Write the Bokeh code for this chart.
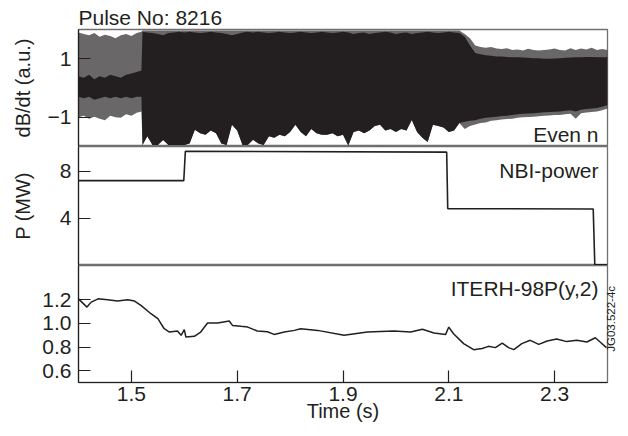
import math
from bokeh.plotting import figure
from bokeh.models import Range1d, FixedTicker, Label, LinearAxis
from bokeh.layouts import column
from bokeh.embed import file_html
from bokeh.resources import INLINE

# ---------------- data ----------------
# dB/dt envelope: times and envelope values
t_r1 = [1.40, 1.41, 1.42, 1.43, 1.44, 1.45, 1.46, 1.47, 1.48, 1.49, 1.50, 1.51, 1.519]
up_outer_r1 = [1.90, 1.85, 1.80, 1.88, 1.75, 1.82, 1.78, 1.70, 1.80, 1.85, 1.78, 1.88, 1.92]
up_core_r1 = [0.40, 0.35, 0.45, 0.30, 0.40, 0.35, 0.45, 0.40, 0.35, 0.45, 0.50, 0.55, 0.60]
lo_core_r1 = [-0.30, -0.35, -0.30, -0.40, -0.35, -0.30, -0.35, -0.30, -0.35, -0.30, -0.35, -0.30, -0.30]
lo_outer_r1 = [-1.00, -0.95, -1.05, -0.98, -1.05, -1.10, -0.95, -1.00, -1.02, -0.90, -0.95, -0.85, -0.80]

t_r2 = [1.521, 1.53, 1.54, 1.55, 1.56, 1.57, 1.58, 1.59, 1.60, 1.61, 1.62, 1.63, 1.64, 1.65,
        1.66, 1.67, 1.68, 1.69, 1.70, 1.71, 1.72, 1.73, 1.74, 1.75, 1.76, 1.77, 1.78, 1.79,
        1.80, 1.81, 1.82, 1.83, 1.84, 1.85, 1.86, 1.87, 1.88, 1.89, 1.90, 1.91, 1.92, 1.93,
        1.94, 1.95, 1.96, 1.97, 1.98, 1.99, 2.00, 2.01, 2.02, 2.03, 2.04, 2.05, 2.06, 2.07,
        2.08, 2.09, 2.10, 2.11, 2.12]
up_outer_r2 = [1.97, 1.97, 1.97, 1.97, 1.97, 1.97, 1.97, 1.97, 1.97, 1.97, 1.97, 1.97, 1.97, 1.97,
               1.97, 1.97, 1.97, 1.97, 1.97, 1.97, 1.97, 1.97, 1.97, 1.97, 1.97, 1.97, 1.97, 1.97,
               1.97, 1.97, 1.97, 1.97, 1.97, 1.97, 1.97, 1.97, 1.97, 1.97, 1.97, 1.97, 1.97, 1.97,
               1.97, 1.97, 1.97, 1.97, 1.97, 1.97, 1.97, 1.97, 1.97, 1.97, 1.97, 1.97, 1.97, 1.97,
               1.97, 1.97, 1.97, 1.97, 1.97]
up_core_r2 = [1.92, 1.90, 1.88, 1.85, 1.80, 1.88, 1.90, 1.92, 1.90, 1.92, 1.90, 1.88, 1.90, 1.92,
              1.90, 1.88, 1.85, 1.80, 1.85, 1.90, 1.92, 1.90, 1.92, 1.90, 1.88, 1.90, 1.92, 1.90,
              1.88, 1.90, 1.92, 1.90, 1.88, 1.90, 1.92, 1.90, 1.88, 1.90, 1.92, 1.90, 1.85, 1.88,
              1.90, 1.85, 1.88, 1.90, 1.92, 1.90, 1.85, 1.88, 1.90, 1.85, 1.88, 1.90, 1.92, 1.90,
              1.88, 1.90, 1.92, 1.90, 1.88]
lo_r2 = [-1.95, -1.65, -1.95, -1.95, -1.78, -1.95, -1.95, -1.95, -1.95, -1.90, -1.43, -1.55,
         -1.60, -1.45, -1.55, -1.90, -1.95, -1.26, -1.45, -1.95, -1.95, -1.77, -1.90, -1.95,
         -1.65, -1.70, -1.60, -1.65, -1.50, -1.26, -1.50, -1.65, -1.40, -1.55, -1.60, -1.60,
         -1.55, -1.65, -1.60, -1.97, -1.50, -1.45, -1.55, -1.45, -1.30, -1.26, -1.45, -1.40,
         -1.50, -1.40, -1.45, -1.09, -1.50, -1.70, -1.85, -1.26, -1.30, -1.35, -1.50, -1.45,
         -1.20]

t_r3 = [2.13, 2.14, 2.15, 2.16, 2.17, 2.18, 2.19, 2.20, 2.21, 2.22, 2.23, 2.24, 2.25, 2.26,
        2.27, 2.28, 2.29, 2.30, 2.31, 2.32, 2.33, 2.34, 2.35, 2.36, 2.37, 2.38, 2.39, 2.40]
up_outer_r3 = [1.85, 1.70, 1.45, 1.40, 1.38, 1.40, 1.35, 1.33, 1.36, 1.30, 1.32, 1.28, 1.34, 1.30,
               1.28, 1.30, 1.32, 1.35, 1.30, 1.28, 1.36, 1.30, 1.35, 1.32, 1.38, 1.30, 1.33, 1.30]
up_core_r3 = [1.75, 1.45, 1.20, 1.15, 1.12, 1.10, 1.08, 1.08, 1.06, 1.05, 1.05, 1.04, 1.03, 1.02,
              1.02, 1.00, 1.00, 1.01, 1.02, 1.03, 1.04, 1.05, 1.05, 1.06, 1.06, 1.05, 1.05, 1.05]
lo_core_r3 = [-1.15, -1.12, -1.10, -1.05, -1.02, -1.00, -0.98, -0.96, -0.95, -0.92, -0.90, -0.88,
              -0.87, -0.86, -0.85, -0.83, -0.82, -0.81, -0.80, -0.78, -0.76, -0.80, -0.74, -0.72,
              -0.70, -0.68, -0.64, -0.58]
lo_outer_r3 = [-1.40, -1.30, -1.25, -1.20, -1.18, -1.12, -1.10, -1.08, -1.06, -1.05, -1.02, -1.00,
               -0.99, -0.98, -0.97, -0.95, -0.94, -0.92, -0.92, -0.90, -0.88, -1.05, -0.86, -0.84,
               -0.82, -0.80, -0.76, -0.70]

sig_t = t_r1 + t_r2 + t_r3
sig_up_outer = up_outer_r1 + up_outer_r2 + up_outer_r3
sig_up_core = up_core_r1 + up_core_r2 + up_core_r3
sig_lo_core = lo_core_r1 + lo_r2 + lo_core_r3
sig_lo_outer = lo_outer_r1 + lo_r2 + lo_outer_r3

# NBI power (MW)
nbi_t = [1.40, 1.599, 1.602, 2.096, 2.098, 2.373, 2.376, 2.40]
nbi_p = [7.20, 7.20, 9.70, 9.62, 4.83, 4.80, 0.05, 0.05]

# ITERH-98P(y,2)
iter_t = [1.400, 1.416, 1.424, 1.437, 1.455, 1.474, 1.493, 1.506, 1.518, 1.537, 1.550, 1.562,
          1.572, 1.587, 1.594, 1.600, 1.603, 1.619, 1.631, 1.644, 1.663, 1.685, 1.691, 1.707,
          1.720, 1.738, 1.757, 1.770, 1.789, 1.808, 1.820, 1.852, 1.902, 1.946, 1.996, 2.028,
          2.050, 2.072, 2.094, 2.100, 2.109, 2.128, 2.147, 2.163, 2.175, 2.188, 2.201, 2.213,
          2.223, 2.238, 2.254, 2.270, 2.286, 2.304, 2.323, 2.342, 2.361, 2.377, 2.386, 2.398]
iter_v = [1.208, 1.138, 1.180, 1.208, 1.200, 1.189, 1.200, 1.189, 1.152, 1.082, 1.040, 0.955,
          0.927, 0.936, 0.899, 0.947, 0.885, 0.891, 0.927, 1.003, 1.003, 1.020, 0.983, 0.975,
          0.969, 0.936, 0.930, 0.907, 0.927, 0.941, 0.955, 0.941, 0.899, 0.927, 0.936, 0.927,
          0.950, 0.919, 0.907, 0.969, 0.913, 0.829, 0.778, 0.787, 0.806, 0.795, 0.834, 0.795,
          0.778, 0.829, 0.857, 0.823, 0.851, 0.868, 0.846, 0.857, 0.843, 0.879, 0.843, 0.795]

x_ticks = [1.5, 1.7, 1.9, 2.1, 2.3]
top_ticks = [-1, 1]
mid_ticks = [4, 8]
bot_ticks = [0.6, 0.8, 1.0, 1.2]

# ---------------- style ----------------
INK = "#231f20"
FRAME = "#707070"
FONT = "Liberation Sans"
FS = "21px"

xr = Range1d(1.4, 2.4)


def make_fig(h, yr, top, bottom, below):
    p = figure(width=628, height=h, x_range=xr, y_range=Range1d(*yr),
               output_backend="svg", toolbar_location=None,
               min_border_left=78, min_border_right=21,
               min_border_top=top, min_border_bottom=bottom,
               x_axis_location="below" if below else None)
    p.xgrid.visible = False
    p.ygrid.visible = False
    p.outline_line_color = FRAME
    p.outline_line_width = 1.3
    p.background_fill_color = "white"
    p.border_fill_color = "white"
    for ax in p.axis:
        ax.axis_line_color = INK
        ax.axis_line_width = 1.2
        ax.major_tick_line_color = INK
        ax.major_tick_line_width = 1.2
        ax.major_tick_in = 12
        ax.major_tick_out = 0
        ax.minor_tick_line_color = None
        ax.major_label_text_font = FONT
        ax.major_label_text_font_size = FS
        ax.major_label_text_color = INK
        ax.axis_label_text_font = FONT
        ax.axis_label_text_font_size = "20px"
        ax.axis_label_text_font_style = "normal"
        ax.axis_label_text_color = INK
        ax.major_label_standoff = 7
    return p


def add_text(p, x, y, txt, align="right", size="21px"):
    p.add_layout(Label(x=x, y=y, text=txt, text_font=FONT, text_font_size=size,
                       text_color=INK, text_align=align, text_baseline="alphabetic"))


# top: dB/dt
p1 = make_fig(146, (-2, 2), 29, 0, False)
p1.title.text = "Pulse No: 8216"
p1.title.text_font = FONT
p1.title.text_font_size = "21px"
p1.title.text_font_style = "normal"
p1.title.text_color = INK
p1.title.align = "left"
p1.title.standoff = 2
p1.varea(x=sig_t, y1=sig_lo_outer, y2=sig_up_outer, fill_color=INK, fill_alpha=0.68)
p1.varea(x=sig_t, y1=sig_lo_core, y2=sig_up_core, fill_color=INK, fill_alpha=1.0)
p1.yaxis.ticker = FixedTicker(ticks=top_ticks)
p1.yaxis.major_label_overrides = {-1: "\u22121", 1: "1"}
p1.yaxis.axis_label = "dB/dt (a.u.)"
p1.yaxis.axis_label_standoff = 11
add_text(p1, 2.383, -1.60, "Even n")

# middle: NBI power
p2 = make_fig(119, (0, 10.1), 0, 0, False)
p2.line(nbi_t, nbi_p, line_color=INK, line_width=1.6)
p2.yaxis.ticker = FixedTicker(ticks=mid_ticks)
p2.yaxis.major_label_overrides = {4: "4", 8: "8"}
p2.yaxis.axis_label = "P (MW)"
p2.yaxis.axis_label_standoff = 23
add_text(p2, 2.383, 8.06, "NBI-power")

# bottom: ITERH-98P(y,2)
p3 = make_fig(171, (0.5, 1.49), 0, 54, True)
p3.line(iter_t, iter_v, line_color=INK, line_width=1.5)
p3.yaxis.ticker = FixedTicker(ticks=bot_ticks)
p3.yaxis.major_label_overrides = {0.6: "0.6", 0.8: "0.8", 1.0: "1.0", 1.2: "1.2"}
p3.xaxis.ticker = FixedTicker(ticks=x_ticks)
p3.xaxis.major_label_overrides = {1.5: "1.5", 1.7: "1.7", 1.9: "1.9", 2.1: "2.1", 2.3: "2.3"}
p3.xaxis.major_label_standoff = 4
p3.xaxis.axis_label = "Time (s)"
p3.xaxis.axis_label_standoff = -4
add_text(p3, 2.383, 1.295, "ITERH-98P(y,2)")

# figure code on the right margin
code_axis = LinearAxis(ticker=FixedTicker(ticks=[0.76]),
                       major_label_overrides={0.76: "JG03.522-4c"},
                       major_label_orientation=math.pi / 2,
                       major_tick_in=0, major_tick_out=0, axis_line_color=None,
                       major_label_text_font=FONT, major_label_text_font_size="11.5px",
                       major_label_text_color=INK, major_label_standoff=4)
p3.add_layout(code_axis, "right")

layout = column(p1, p2, p3, spacing=0)

open("out.html", "w").write(file_html(layout, INLINE))
